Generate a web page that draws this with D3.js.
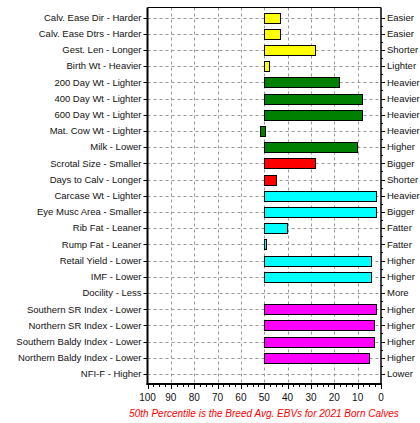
<!DOCTYPE html>
<html><head><meta charset="utf-8">
<script src="https://cdn.jsdelivr.net/npm/d3@7/dist/d3.min.js"></script>
<style>body{margin:0;background:#fff}svg{display:block}</style>
</head><body>
<svg id="c" width="420" height="423"></svg>
<script>
const categories = ["Calv. Ease Dir - Harder","Calv. Ease Dtrs - Harder","Gest. Len - Longer","Birth Wt - Heavier","200 Day Wt - Lighter","400 Day Wt - Lighter","600 Day Wt - Lighter","Mat. Cow Wt - Lighter","Milk - Lower","Scrotal Size - Smaller","Days to Calv - Longer","Carcase Wt - Lighter","Eye Musc Area - Smaller","Rib Fat - Leaner","Rump Fat - Leaner","Retail Yield - Lower","IMF - Lower","Docility - Less","Southern SR Index - Lower","Northern SR Index - Lower","Southern Baldy Index - Lower","Northern Baldy Index - Lower","NFI-F - Higher"];
const rightLabels = ["Easier","Easier","Shorter","Lighter","Heavier","Heavier","Heavier","Heavier","Higher","Bigger","Shorter","Heavier","Bigger","Fatter","Fatter","Higher","Higher","More","Higher","Higher","Higher","Higher","Lower"];
const percentiles = [43,43,28,48,18,8,8,52,10,28,45,2,2,40,49,4,4,null,2,3,3,5,null];
const groups = ["calving","calving","calving","calving","growth","growth","growth","growth","growth","fertility","fertility","carcase","carcase","carcase","carcase","carcase","carcase","other","index","index","index","index","feed"];
const xTicks = [100,90,80,70,60,50,40,30,20,10,0];
const footer = "50th Percentile is the Breed Avg. EBVs for 2021 Born Calves";
const groupColor = {calving:"#ffff00",growth:"#008000",fertility:"#ff0000",carcase:"#00ffff",index:"#ff00ff",other:"#ffffff",feed:"#ffffff"};

const svg = d3.select("#c");
const L = 147.5, R = 381, T = 7.5, B = 384;
const x = d3.scaleLinear().domain([100,0]).range([L,R]);
const y = d3.scalePoint().domain(categories).range([T+10,B-10]);
const font = "Liberation Sans, Arial, sans-serif";

// grid
const g = svg.append("g");
g.selectAll("line.vg").data(xTicks.filter(d=>d!==100&&d!==0)).join("line")
  .attr("x1",d=>Math.round(x(d))+0.5).attr("x2",d=>Math.round(x(d))+0.5)
  .attr("y1",T).attr("y2",B).attr("stroke","#999").attr("stroke-dasharray","3,3");
g.selectAll("line.hg").data(categories).join("line")
  .attr("x1",L).attr("x2",R).attr("y1",d=>Math.round(y(d))+0.5).attr("y2",d=>Math.round(y(d))+0.5)
  .attr("stroke","#999").attr("stroke-dasharray","3,3");

// bars
const data = categories.map((c,i)=>({c,v:percentiles[i],grp:groups[i]})).filter(d=>d.v!==null);
const bh = 11;
svg.selectAll("rect.bar").data(data).join("rect")
  .attr("x",d=>Math.round(Math.min(x(50),x(d.v)))+0.5)
  .attr("width",d=>Math.max(1,Math.round(Math.abs(x(d.v)-x(50)))))
  .attr("y",d=>Math.round(y(d.c)-bh/2+0.5)+0.5)
  .attr("height",bh-1)
  .attr("fill",d=>groupColor[d.grp]).attr("stroke","#000").attr("stroke-width",1);

// frame
svg.append("line").attr("x1",L).attr("x2",R).attr("y1",T).attr("y2",T).attr("stroke","#000");
svg.append("line").attr("x1",R).attr("x2",R).attr("y1",T).attr("y2",B).attr("stroke","#000").attr("stroke-width",1.5);
svg.append("line").attr("x1",L).attr("x2",L).attr("y1",T).attr("y2",B+1).attr("stroke","#000").attr("stroke-width",2);
svg.append("line").attr("x1",L-1).attr("x2",R+1).attr("y1",B).attr("y2",B).attr("stroke","#000").attr("stroke-width",2);

// left axis ticks & labels
svg.selectAll("line.lt").data(categories).join("line")
  .attr("x1",L-4).attr("x2",L).attr("y1",d=>Math.round(y(d))+0.5).attr("y2",d=>Math.round(y(d))+0.5).attr("stroke","#000");
svg.selectAll("text.ll").data(categories).join("text")
  .attr("x",L-6).attr("y",d=>y(d)).attr("dy","0.35em").attr("text-anchor","end")
  .attr("font-family",font).attr("font-size","9.5px").attr("fill","#111").text(d=>d);

// right axis ticks & labels
svg.selectAll("line.rt").data(categories).join("line")
  .attr("x1",R).attr("x2",R+4).attr("y1",d=>Math.round(y(d))+0.5).attr("y2",d=>Math.round(y(d))+0.5).attr("stroke","#000");
const step = y.step();
svg.selectAll("line.rmt").data(categories.slice(0,-1)).join("line")
  .attr("x1",R).attr("x2",R+2).attr("y1",d=>Math.round(y(d)+step/2)+0.5).attr("y2",d=>Math.round(y(d)+step/2)+0.5).attr("stroke","#000");
svg.selectAll("text.rl").data(rightLabels).join("text")
  .attr("x",R+6).attr("y",(d,i)=>y(categories[i])).attr("dy","0.35em")
  .attr("font-family",font).attr("font-size","9.5px").attr("fill","#111").text(d=>d);

// bottom axis
const minor = d3.range(0,100,2.5).filter(v=>v%10!==0);
svg.selectAll("line.bmt").data(minor).join("line")
  .attr("x1",d=>Math.round(x(d))+0.5).attr("x2",d=>Math.round(x(d))+0.5).attr("y1",B).attr("y2",B+3).attr("stroke","#000");
svg.selectAll("line.bt").data(xTicks).join("line")
  .attr("x1",d=>Math.round(x(d))+0.5).attr("x2",d=>Math.round(x(d))+0.5).attr("y1",B).attr("y2",B+5).attr("stroke","#000");
svg.selectAll("text.bl").data(xTicks).join("text")
  .attr("x",d=>x(d)).attr("y",B+17).attr("text-anchor","middle")
  .attr("font-family",font).attr("font-size","10px").attr("fill","#111").text(d=>d);

svg.append("text").attr("x",264).attr("y",417).attr("text-anchor","middle")
  .attr("font-family",font).attr("font-size","10px").attr("font-style","italic").attr("fill","#ff0000").text(footer);
</script>
</body></html>
